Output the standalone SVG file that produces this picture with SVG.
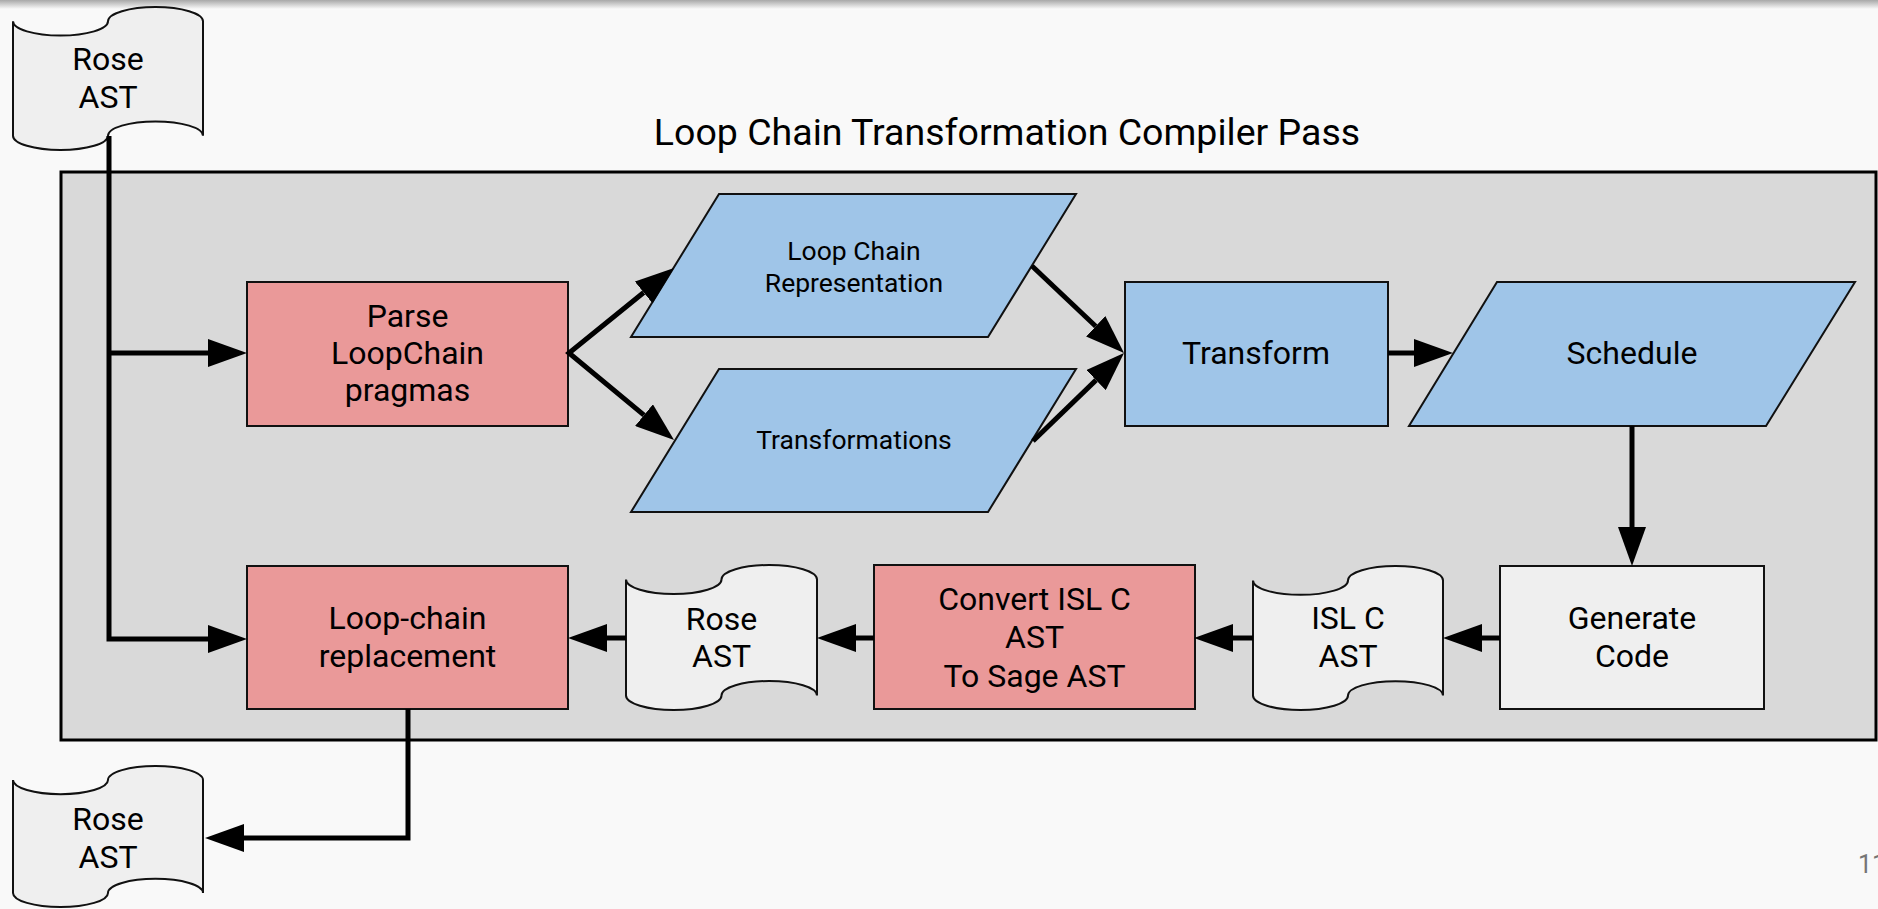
<svg xmlns="http://www.w3.org/2000/svg" width="1878" height="909" viewBox="0 0 1878 909">
  <style>
    .txt { font-family: Roboto, "Liberation Sans", sans-serif; fill: #000; text-anchor: middle; }
    .big { font-size: 32px; }
    .small { font-size: 26.5px; }
    .title { font-size: 37.5px; }
    .pink { fill: #ea9999; stroke: #111; stroke-width: 2; }
    .blue { fill: #9fc5e8; stroke: #111; stroke-width: 2; }
    .doc { fill: #efefef; stroke: #111; stroke-width: 2; }
    .wire { fill: none; stroke: #000; stroke-width: 5; stroke-linejoin: miter; }
    .wire-end { marker-end: url(#arrow); }
  </style>
  <defs>
    <linearGradient id="topShade" x1="0" y1="0" x2="0" y2="1">
      <stop offset="0" stop-color="#a8a8a8"/>
      <stop offset="1" stop-color="#f9f9f9"/>
    </linearGradient>
    <!-- arrowhead placed after the end of each wire, tip 39px ahead -->
    <marker id="arrow" viewBox="0 -14 39 28" refX="0" refY="0" markerWidth="39" markerHeight="28" markerUnits="userSpaceOnUse" orient="auto-start-reverse">
      <path d="M0,-14 L39,0 L0,14 Z" fill="#000"/>
    </marker>
  </defs>

  <!-- page -->
  <rect x="0" y="0" width="1878" height="909" fill="#f9f9f9"/>
  <rect x="0" y="0" width="1878" height="9" fill="url(#topShade)"/>

  <!-- pass container -->
  <g id="pass">
    <rect x="61" y="172" width="1815" height="568" fill="#d9d9d9" stroke="#000" stroke-width="3"/>
    <text class="txt title" x="1007" y="145">Loop Chain Transformation Compiler Pass</text>
  </g>

  <!-- input AST -->
  <g id="rose-in">
    <path class="doc" d="M13,21.3 A47.5,14.3 0 0 0 108,21.3 A47.5,14.3 0 0 1 203,21.3 L203,135.7 A47.5,14.3 0 0 0 108,135.7 A47.5,14.3 0 0 1 13,135.7 Z"/>
    <text class="txt big" x="108" y="70">Rose</text>
    <text class="txt big" x="108" y="108">AST</text>
  </g>

  <g id="parse">
    <rect class="pink" x="247" y="282" width="321" height="144"/>
    <text class="txt big" x="407.5" y="327">Parse</text>
    <text class="txt big" x="407.5" y="364">LoopChain</text>
    <text class="txt big" x="407.5" y="401">pragmas</text>
  </g>

  <g id="loopchain-rep">
    <polygon class="blue" points="719,194 1076,194 988,337 631,337"/>
    <text class="txt small" x="854" y="260">Loop Chain</text>
    <text class="txt small" x="854" y="292">Representation</text>
  </g>

  <g id="transformations">
    <polygon class="blue" points="719,369 1076,369 988,512 631,512"/>
    <text class="txt small" x="854" y="449">Transformations</text>
  </g>

  <g id="transform">
    <rect class="blue" x="1125" y="282" width="263" height="144"/>
    <text class="txt big" x="1256" y="364">Transform</text>
  </g>

  <g id="schedule">
    <polygon class="blue" points="1497,282 1855,282 1766,426 1409,426"/>
    <text class="txt big" x="1632" y="364">Schedule</text>
  </g>

  <g id="generate">
    <rect class="doc" x="1500" y="566" width="264" height="143"/>
    <text class="txt big" x="1632" y="629">Generate</text>
    <text class="txt big" x="1632" y="667">Code</text>
  </g>

  <g id="isl-ast">
    <path class="doc" d="M1253,580.4 A47.5,14.4 0 0 0 1348,580.4 A47.5,14.4 0 0 1 1443,580.4 L1443,695.6 A47.5,14.4 0 0 0 1348,695.6 A47.5,14.4 0 0 1 1253,695.6 Z"/>
    <text class="txt big" x="1348" y="629">ISL C</text>
    <text class="txt big" x="1348" y="667">AST</text>
  </g>

  <g id="convert">
    <rect class="pink" x="874" y="565" width="321" height="144"/>
    <text class="txt big" x="1034.5" y="610">Convert ISL C</text>
    <text class="txt big" x="1034.5" y="648">AST</text>
    <text class="txt big" x="1034.5" y="687">To Sage AST</text>
  </g>

  <g id="rose-mid">
    <path class="doc" d="M626,579.5 A47.75,14.5 0 0 0 721.5,579.5 A47.75,14.5 0 0 1 817,579.5 L817,695.5 A47.75,14.5 0 0 0 721.5,695.5 A47.75,14.5 0 0 1 626,695.5 Z"/>
    <text class="txt big" x="721.5" y="630">Rose</text>
    <text class="txt big" x="721.5" y="667">AST</text>
  </g>

  <g id="replace">
    <rect class="pink" x="247" y="566" width="321" height="143"/>
    <text class="txt big" x="407.5" y="629">Loop-chain</text>
    <text class="txt big" x="407.5" y="667">replacement</text>
  </g>

  <!-- output AST -->
  <g id="rose-out">
    <path class="doc" d="M13,780.1 A47.5,14.1 0 0 0 108,780.1 A47.5,14.1 0 0 1 203,780.1 L203,892.9 A47.5,14.1 0 0 0 108,892.9 A47.5,14.1 0 0 1 13,892.9 Z"/>
    <text class="txt big" x="108" y="830">Rose</text>
    <text class="txt big" x="108" y="868">AST</text>
  </g>

  <g id="connectors">
    <path class="wire wire-end" d="M109,136 V639 H208"/>
    <path class="wire wire-end" d="M109,353 H208"/>
    <path class="wire" d="M643.7,292.5 L569,353 L644,415.1" marker-start="url(#arrow)" marker-end="url(#arrow)"/>
    <path class="wire wire-end" d="M1032,266 L1095.7,326.2"/>
    <path class="wire wire-end" d="M1033,441 L1096,380.1"/>
    <path class="wire wire-end" d="M1388,353 H1414"/>
    <path class="wire wire-end" d="M1632,426 V527"/>
    <path class="wire wire-end" d="M1500,638 H1482"/>
    <path class="wire wire-end" d="M1253,638 H1233"/>
    <path class="wire wire-end" d="M874,638 H856"/>
    <path class="wire wire-end" d="M626,638 H607"/>
    <path class="wire wire-end" d="M408,709 V838 H244"/>
  </g>

  <!-- slide number -->
  <text x="1858" y="873" font-family="Roboto, 'Liberation Sans', sans-serif" font-size="25" fill="#757575">11</text>
</svg>
